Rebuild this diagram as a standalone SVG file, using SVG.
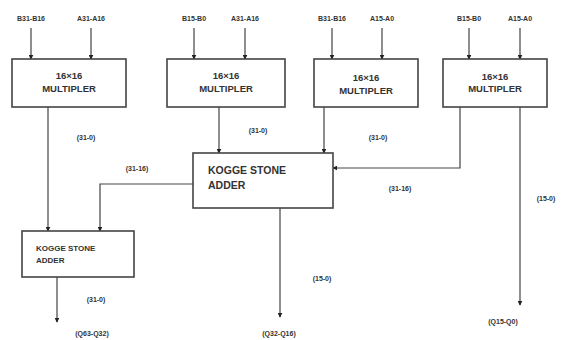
<svg xmlns="http://www.w3.org/2000/svg" width="566" height="340" viewBox="0 0 566 340">
<defs>
<marker id="ah" viewBox="0 0 8 8" refX="7" refY="4" markerWidth="5" markerHeight="5" orient="auto" markerUnits="userSpaceOnUse">
<path d="M0,0 L8,4 L0,8 z" fill="#222"/>
</marker>
<style>
.box{fill:#fff;stroke:#444;stroke-width:1.6}
.ln{fill:none;stroke:#444;stroke-width:1.2;marker-end:url(#ah)}
.ln2{fill:none;stroke:#444;stroke-width:1.2}
.t{font-family:"Liberation Sans",Arial,sans-serif;font-weight:bold;fill:#333}
.s{font-size:7px}
.m{font-size:9.5px}
.k{font-size:10.5px}
.k2{font-size:8px}
</style>
</defs>
<rect width="566" height="340" fill="#fff"/>
<g id="connectors">
<path class="ln" d="M31,28 V59"/>
<path class="ln" d="M91,28 V59"/>
<path class="ln" d="M194,28 V59"/>
<path class="ln" d="M245,28 V59"/>
<path class="ln" d="M332,28 V59"/>
<path class="ln" d="M382,28 V59"/>
<path class="ln" d="M469,28 V59"/>
<path class="ln" d="M520,28 V59"/>
<path class="ln" d="M48,107 V231"/>
<path class="ln" d="M219,107 V153"/>
<path class="ln" d="M324,107 V153"/>
<path class="ln" d="M460,107 V168 H333"/>
<path class="ln" d="M193,184 H100 V231"/>
<path class="ln" d="M280,208 V317"/>
<path class="ln" d="M57,277 V322"/>
<path class="ln" d="M520,107 V305"/>
</g>
<g id="mult1"><rect class="box" x="12" y="59" width="114" height="48"/>
<text class="t m" x="69" y="79" text-anchor="middle">16×16</text>
<text class="t m" x="69" y="92" text-anchor="middle">MULTIPLER</text></g>
<g id="mult2"><rect class="box" x="167" y="59" width="118" height="48"/>
<text class="t m" x="226" y="79" text-anchor="middle">16×16</text>
<text class="t m" x="226" y="92" text-anchor="middle">MULTIPLER</text></g>
<g id="mult3"><rect class="box" x="314" y="59" width="104" height="48"/>
<text class="t m" x="366" y="81" text-anchor="middle">16×16</text>
<text class="t m" x="366" y="94" text-anchor="middle">MULTIPLER</text></g>
<g id="mult4"><rect class="box" x="443" y="59" width="104" height="48"/>
<text class="t m" x="495" y="80" text-anchor="middle">16×16</text>
<text class="t m" x="495" y="92" text-anchor="middle">MULTIPLER</text></g>
<g id="ksa1"><rect class="box" x="193" y="153" width="140" height="55"/>
<text class="t k" x="208" y="174">KOGGE STONE</text>
<text class="t k" x="208" y="189">ADDER</text></g>
<g id="ksa2"><rect class="box" x="22" y="231" width="112" height="46"/>
<text class="t k2" x="36" y="251">KOGGE STONE</text>
<text class="t k2" x="36" y="263">ADDER</text></g>
<g id="labels">
<text class="t s" x="31" y="21" text-anchor="middle">B31-B16</text>
<text class="t s" x="91" y="21" text-anchor="middle">A31-A16</text>
<text class="t s" x="194" y="21" text-anchor="middle">B15-B0</text>
<text class="t s" x="245" y="21" text-anchor="middle">A31-A16</text>
<text class="t s" x="332" y="21" text-anchor="middle">B31-B16</text>
<text class="t s" x="382" y="21" text-anchor="middle">A15-A0</text>
<text class="t s" x="469" y="21" text-anchor="middle">B15-B0</text>
<text class="t s" x="520" y="21" text-anchor="middle">A15-A0</text>
<text class="t s" x="86" y="140" text-anchor="middle">(31-0)</text>
<text class="t s" x="258" y="133" text-anchor="middle">(31-0)</text>
<text class="t s" x="378" y="140" text-anchor="middle">(31-0)</text>
<text class="t s" x="137" y="171" text-anchor="middle">(31-16)</text>
<text class="t s" x="400" y="191" text-anchor="middle">(31-16)</text>
<text class="t s" x="546" y="201" text-anchor="middle">(15-0)</text>
<text class="t s" x="322" y="281" text-anchor="middle">(15-0)</text>
<text class="t s" x="96" y="302" text-anchor="middle">(31-0)</text>
<text class="t s" x="92" y="336" text-anchor="middle">(Q63-Q32)</text>
<text class="t s" x="279" y="336" text-anchor="middle">(Q32-Q16)</text>
<text class="t s" x="503" y="324" text-anchor="middle">(Q15-Q0)</text>
</g>
</svg>
